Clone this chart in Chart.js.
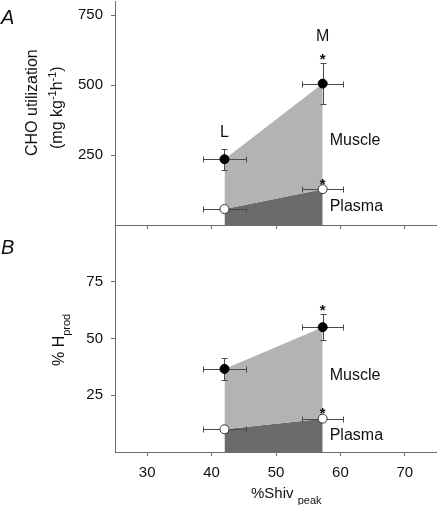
<!DOCTYPE html>
<html>
<head>
<meta charset="utf-8">
<script src="https://cdn.jsdelivr.net/npm/chart.js@4.4.1/dist/chart.umd.min.js"></script>
<style>
  html, body { margin: 0; padding: 0; background: #fff; }
  #wrap { position: relative; width: 437px; height: 505px; overflow: hidden; }
  canvas { position: absolute; left: 0; }
  #chartCHO { top: 0; }
  #chartHprod { top: 218px; }
</style>
</head>
<body>
<div id="wrap">
  <canvas id="chartCHO" width="437" height="232"></canvas>
  <canvas id="chartHprod" width="437" height="287"></canvas>
</div>
<script>
// trials L and M, x = %Shiv peak
const trials = ['L', 'M']
const shivPeak = [42.0, 57.25]
const shivPeakErr = [3.4, 3.15]
const significant = [false, true]

// panel A, CHO utilization (mg/kg/h)
const muscleCHO = [235, 505]
const muscleCHOErr = [37, 72]
const plasmaCHO = [57, 128]
const plasmaCHOErr = [3, 3]

// panel B, % Hprod
const muscleHprod = [36.6, 55.0]
const muscleHprodErr = [5.0, 5.8]
const plasmaHprod = [10.0, 14.7]
const plasmaHprodErr = [0.5, 0.5]

const xTicks = [30, 40, 50, 60, 70]
const choTicks = [250, 500, 750]
const hprodTicks = [25, 50, 75]

const FONT = "'Liberation Sans', Arial, Helvetica, sans-serif"
const colorMuscle = '#b3b3b3'
const colorPlasma = '#6b6b6b'
const axisColor = '#6a6a6a'
const barColor = '#4a4a4a'
const textColor = '#111'
const markerR = 4.5

const toPoints = (vals) => shivPeak.map((x, i) => ({ x: x, y: vals[i] }))

// draws text made of pieces, some raised or lowered, optionally rotated
const drawRich = (ctx, parts, x, y, angle) => {
    ctx.save()
    ctx.translate(x, y)
    ctx.rotate(angle)
    ctx.textAlign = 'left'
    ctx.textBaseline = 'alphabetic'
    let cx = 0
    parts.forEach(p => {
        ctx.font = p.font
        ctx.fillText(p.t, cx, p.dy || 0)
        cx += ctx.measureText(p.t).width
    })
    ctx.restore()
}

const overlay = {
    id: 'overlay',
    afterDatasetDraw(chart, args, o) {
        // error bars go over the fills, under the markers
        if (args.index !== 2) return
        const ctx = chart.ctx
        const xs = chart.scales.x
        const ys = chart.scales.y
        ctx.save()
        ctx.strokeStyle = barColor
        ctx.lineWidth = 1
        const cap = 3
        const series = [[o.muscle, o.muscleErr], [o.plasma, o.plasmaErr]]
        series.forEach(([vals, errs]) => {
            vals.forEach((v, i) => {
                const cx = Math.round(xs.getPixelForValue(shivPeak[i])) + 0.5
                const cy = Math.round(ys.getPixelForValue(v)) + 0.5
                const x0 = Math.round(xs.getPixelForValue(shivPeak[i] - shivPeakErr[i])) + 0.5
                const x1 = Math.round(xs.getPixelForValue(shivPeak[i] + shivPeakErr[i])) + 0.5
                const y0 = Math.round(ys.getPixelForValue(v - errs[i])) + 0.5
                const y1 = Math.round(ys.getPixelForValue(v + errs[i])) + 0.5
                ctx.beginPath()
                ctx.moveTo(x0, cy); ctx.lineTo(x1, cy)
                ctx.moveTo(x0, cy - cap); ctx.lineTo(x0, cy + cap)
                ctx.moveTo(x1, cy - cap); ctx.lineTo(x1, cy + cap)
                ctx.moveTo(cx, y0); ctx.lineTo(cx, y1)
                ctx.moveTo(cx - cap, y0); ctx.lineTo(cx + cap, y0)
                ctx.moveTo(cx - cap, y1); ctx.lineTo(cx + cap, y1)
                ctx.stroke()
            })
        })
        ctx.restore()
    },
    afterDraw(chart, args, o) {
        const ctx = chart.ctx
        const xs = chart.scales.x
        const ys = chart.scales.y
        ctx.save()
        ctx.fillStyle = textColor

        // stars over significant points, trial labels in panel A
        const series = [[o.muscle, o.muscleErr, true], [o.plasma, o.plasmaErr, false]]
        series.forEach(([vals, errs, upper]) => {
            vals.forEach((v, i) => {
                const cx = xs.getPixelForValue(shivPeak[i])
                const top = ys.getPixelForValue(v + errs[i])
                ctx.textAlign = 'center'
                ctx.textBaseline = 'alphabetic'
                if (significant[i]) {
                    ctx.font = 'bold 15px ' + FONT
                    ctx.fillText('*', cx, top + 1)
                }
                if (upper && o.trialLabels) {
                    ctx.font = '16px ' + FONT
                    ctx.fillText(trials[i], cx, top - 12 - (significant[i] ? 10 : 0))
                }
            })
        })

        // region names
        const lx = xs.getPixelForValue(shivPeak[1]) + 7
        ctx.font = '16px ' + FONT
        ctx.textAlign = 'left'
        ctx.textBaseline = 'middle'
        ctx.fillText('Muscle', lx, ys.getPixelForValue(o.muscleLabelY))
        ctx.fillText('Plasma', lx, ys.getPixelForValue(o.plasmaLabelY))

        // panel letter
        ctx.font = 'italic 20px ' + FONT
        ctx.textBaseline = 'alphabetic'
        ctx.fillText(o.letter, 1, o.letterY)

        o.titles(ctx)
        ctx.restore()
    }
}

const makePanel = (canvasId, o) => {
    const canvas = document.getElementById(canvasId)
    return new Chart(canvas.getContext('2d'), {
        type: 'line',
        data: {
            datasets: [
                {
                    data: toPoints(o.muscle),
                    showLine: false,
                    pointRadius: markerR,
                    pointBackgroundColor: '#000',
                    pointBorderColor: '#000',
                    pointBorderWidth: 1
                },
                {
                    data: toPoints(o.plasma),
                    showLine: false,
                    pointRadius: markerR,
                    pointBackgroundColor: '#fff',
                    pointBorderColor: '#333',
                    pointBorderWidth: 1
                },
                {
                    data: toPoints(o.muscle),
                    borderWidth: 0,
                    borderColor: 'rgba(0,0,0,0)',
                    pointRadius: 0,
                    tension: 0,
                    backgroundColor: colorMuscle,
                    fill: '+1'
                },
                {
                    data: toPoints(o.plasma),
                    borderWidth: 0,
                    borderColor: 'rgba(0,0,0,0)',
                    pointRadius: 0,
                    tension: 0,
                    backgroundColor: colorPlasma,
                    fill: 'origin'
                }
            ]
        },
        options: {
            responsive: false,
            animation: false,
            events: [],
            clip: false,
            layout: { autoPadding: false, padding: { top: o.padTop, left: 0, right: 0, bottom: 0 } },
            plugins: {
                legend: { display: false },
                tooltip: { enabled: false },
                overlay: o
            },
            scales: {
                x: {
                    type: 'linear',
                    min: 25,
                    max: 75,
                    afterBuildTicks: s => { s.ticks = xTicks.map(v => ({ value: v })) },
                    afterFit: s => { s.height = o.xHeight; s.paddingLeft = 0; s.paddingRight = 0 },
                    grid: { drawOnChartArea: false, drawTicks: true, tickLength: 4, color: axisColor },
                    border: { display: true, color: axisColor, width: 1 },
                    ticks: {
                        display: o.xLabels,
                        padding: 8,
                        color: textColor,
                        font: { family: FONT, size: 15 }
                    }
                },
                y: {
                    type: 'linear',
                    min: 0,
                    max: o.yMax,
                    afterBuildTicks: s => { s.ticks = o.yTicks.map(v => ({ value: v })) },
                    afterFit: s => { s.width = 115; s.paddingTop = 0; s.paddingBottom = 0 },
                    grid: { drawOnChartArea: false, drawTicks: true, tickLength: 4, color: axisColor },
                    border: { display: true, color: axisColor, width: 1 },
                    ticks: {
                        padding: 8,
                        color: textColor,
                        font: { family: FONT, size: 15 }
                    }
                }
            }
        },
        plugins: [overlay]
    })
}

const chartCHO = makePanel('chartCHO', {
    muscle: muscleCHO, muscleErr: muscleCHOErr,
    plasma: plasmaCHO, plasmaErr: plasmaCHOErr,
    yMax: 800, yTicks: choTicks,
    padTop: 1, xHeight: 7, xLabels: false,
    trialLabels: true,
    muscleLabelY: 300, plasmaLabelY: 65,
    letter: 'A', letterY: 24,
    titles: ctx => {
        const f = '16px ' + FONT
        const s = '11px ' + FONT
        ctx.textAlign = 'left'
        drawRich(ctx, [{ t: 'CHO utilization', font: f }], 36.5, 156, -Math.PI / 2)
        drawRich(ctx, [
            { t: '(mg kg', font: f },
            { t: '-1', font: s, dy: -6 },
            { t: 'h', font: f },
            { t: '-1', font: s, dy: -6 },
            { t: ')', font: f }
        ], 62, 149, -Math.PI / 2)
    }
})

const chartHprod = makePanel('chartHprod', {
    muscle: muscleHprod, muscleErr: muscleHprodErr,
    plasma: plasmaHprod, plasmaErr: plasmaHprodErr,
    yMax: 100, yTicks: hprodTicks,
    padTop: 7, xHeight: 53, xLabels: true,
    trialLabels: false,
    muscleLabelY: 33.5, plasmaLabelY: 7.3,
    letter: 'B', letterY: 36,
    titles: ctx => {
        const f = '16px ' + FONT
        const s = '11px ' + FONT
        // y title
        drawRich(ctx, [
            { t: '% H', font: f },
            { t: 'prod', font: s, dy: 6 }
        ], 64, 366 - 218, -Math.PI / 2)
        // x title
        drawRich(ctx, [
            { t: '%Shiv ', font: '15px ' + FONT },
            { t: 'peak', font: s, dy: 6 }
        ], 251, 498 - 218, 0)
    }
})
</script>
</body>
</html>
